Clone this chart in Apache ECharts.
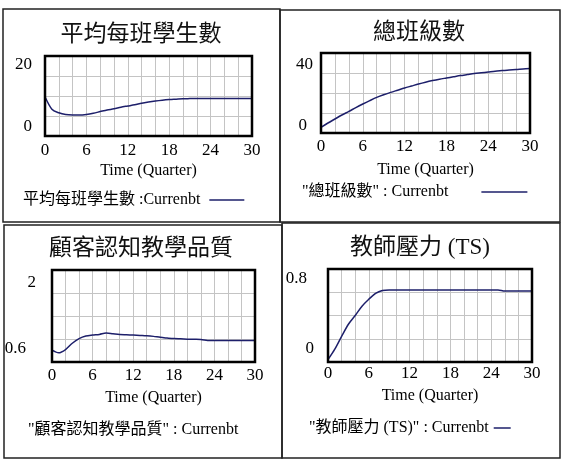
<!DOCTYPE html>
<html>
<head>
<meta charset="utf-8">
<script src="https://cdn.jsdelivr.net/npm/echarts@6/dist/echarts.min.js"></script>
<style>
  html, body { margin: 0; padding: 0; background: #fff; }
  #chart { width: 564px; height: 472px; }
</style>
</head>
<body>
<div id="chart"></div>
<script>
// Time (Quarter)
const quarters = [0, 1, 2, 3, 4, 5, 6, 7, 8, 9, 10, 11, 12, 13, 14, 15, 16, 17, 18, 19, 20,
  21, 22, 23, 24, 25, 26, 27, 28, 29, 30];
// 平均每班學生數
const classSize = [9.8, 6.7, 5.8, 5.35, 5.25, 5.25, 5.4, 5.7, 6.1, 6.5, 6.8, 7.2, 7.5, 7.8, 8.2,
  8.5, 8.75, 8.95, 9.1, 9.2, 9.3, 9.35, 9.4, 9.4, 9.4, 9.4, 9.4, 9.4, 9.4, 9.4, 9.4];
// 總班級數
const classCount = [2.8, 5.0, 7.0, 9.0, 10.8, 12.7, 14.5, 16.2, 17.8, 19.1, 20.3, 21.4, 22.5, 23.5,
  24.5, 25.4, 26.2, 26.9, 27.5, 28.1, 28.7, 29.2, 29.7, 30.1, 30.5, 30.9, 31.2, 31.5, 31.7, 32.0, 32.2];
// 顧客認知教學品質
const perceivedQuality = [0.78, 0.74, 0.79, 0.885, 0.955, 0.995, 1.01, 1.02, 1.04, 1.03, 1.02,
  1.015, 1.01, 1.005, 1.0, 0.99, 0.975, 0.965, 0.956, 0.952, 0.948, 0.946, 0.944, 0.928, 0.926,
  0.926, 0.926, 0.926, 0.926, 0.926, 0.926];
// 教師壓力 (TS)
const teacherStress = [0.02, 0.11, 0.22, 0.325, 0.4, 0.48, 0.54, 0.59, 0.615, 0.62, 0.62, 0.62,
  0.62, 0.62, 0.62, 0.62, 0.62, 0.62, 0.62, 0.62, 0.62, 0.62, 0.62, 0.62, 0.62, 0.62, 0.61, 0.61,
  0.61, 0.61, 0.61];

const titles = ['平均每班學生數', '總班級數', '顧客認知教學品質', '教師壓力 (TS)'];
const legendNames = ['平均每班學生數 :Currenbt', '"總班級數" : Currenbt',
  '"顧客認知教學品質" : Currenbt', '"教師壓力 (TS)" : Currenbt'];
const seriesValues = [classSize, classCount, perceivedQuality, teacherStress];
const yRanges = [[0, 20], [0, 40], [0.6, 2], [0, 0.8]];
const xTickStep = 6;

const FONT = "'Liberation Serif', 'Noto Sans CJK TC', serif";
const LINE = '#1d1f6a';
const GRID_LINE = '#c4c4c4';

// layout of each panel (pixels)
const panels = [
  { box: [3, 9, 277, 213], grid: [45, 56, 207, 80], title: [141, 23], legend: [23, 192], icon: 35, gapR: 4,
    yLab: { margin: 13, hi: [9, 0], lo: [9, 0] }, xMargin: 6, nameGap: 27 },
  { box: [280, 10, 280, 212], grid: [321, 53, 209, 80], title: [419, 21], legend: [302, 184], icon: 46, gapR: 28,
    yLab: { margin: 8, hi: [12, 0], lo: [7, 6] }, xMargin: 5, nameGap: 29 },
  { box: [4, 225, 278, 233], grid: [52, 270, 203, 92], title: [141, 237], legend: [28, 422], icon: 0, gapR: 0,
    yLab: { margin: 16, hi: [13, 0], lo: [13, 10] }, xMargin: 5, nameGap: 28 },
  { box: [282, 223, 278, 235], grid: [328, 269, 204, 93], title: [420, 236], legend: [309, 420], icon: 17, gapR: 0,
    yLab: { margin: 14, hi: [10, 7], lo: [13, 0] }, xMargin: 3, nameGap: 26 }
];

const myChart = echarts.init(document.getElementById('chart'));

const option = {
  backgroundColor: '#fff',
  animation: false,
  title: panels.map((p, i) => ({
    text: titles[i],
    left: p.title[0],
    top: p.title[1],
    textAlign: 'center',
    padding: 0,
    textStyle: { fontSize: 23, fontWeight: 'normal', color: '#111', fontFamily: FONT }
  })),
  legend: panels.map((p, i) => ({
    data: [legendNames[i]],
    left: p.legend[0],
    top: p.legend[1],
    padding: 0,
    align: 'right',
    icon: 'rect',
    itemWidth: p.icon,
    itemHeight: 1.5,
    selectedMode: false,
    formatter: name => '{t|' + name + '}',
    textStyle: {
      color: '#000', fontSize: 16, fontFamily: FONT,
      rich: { t: { color: '#000', fontSize: 16, fontFamily: FONT, padding: [0, p.gapR, 0, 0] } }
    }
  })),
  graphic: panels.map(p => ({
    type: 'rect',
    shape: { x: p.box[0], y: p.box[1], width: p.box[2], height: p.box[3] },
    style: { fill: 'transparent', stroke: '#222', lineWidth: 1.5 },
    silent: true
  })),
  grid: panels.map(p => ({
    left: p.grid[0], top: p.grid[1], width: p.grid[2], height: p.grid[3],
    show: true, borderColor: '#000', borderWidth: 2.5, z: 5
  })),
  xAxis: panels.map((p, i) => ({
    type: 'value',
    gridIndex: i,
    min: 0, max: 30, interval: 2,
    name: 'Time (Quarter)',
    nameLocation: 'middle',
    nameGap: p.nameGap,
    nameMoveOverlap: false,
    nameTextStyle: { fontSize: 16, color: '#000', fontFamily: FONT },
    axisLine: { show: false },
    axisTick: { show: false },
    splitLine: { show: true, lineStyle: { color: GRID_LINE, width: 1 } },
    axisLabel: {
      margin: p.xMargin, fontSize: 17, color: '#000', fontFamily: FONT,
      formatter: v => (v % xTickStep === 0 ? String(v) : '')
    }
  })),
  yAxis: []
};

// each panel: one value axis carrying the data and labels, one plain axis for the 4 grid bands
panels.forEach((p, i) => {
  const [lo, hi] = yRanges[i];
  option.yAxis.push({
    type: 'value',
    gridIndex: i,
    min: lo, max: hi,
    axisLine: { show: false },
    axisTick: { show: false },
    splitLine: { show: false },
    axisLabel: {
      showMinLabel: true, showMaxLabel: true,
      margin: p.yLab.margin, color: '#000', fontSize: 17, fontFamily: FONT,
      formatter: v => (v === hi ? '{hi|' + v + '}' : v === lo ? '{lo|' + v + '}' : ''),
      rich: {
        hi: { fontSize: 17, fontFamily: FONT, color: '#000', padding: [p.yLab.hi[0] * 2, p.yLab.hi[1], 0, 0] },
        lo: { fontSize: 17, fontFamily: FONT, color: '#000', padding: [0, p.yLab.lo[1], p.yLab.lo[0] * 2, 0] }
      }
    }
  });
  option.yAxis.push({
    type: 'value',
    gridIndex: i,
    position: 'left',
    min: 0, max: 4, interval: 1,
    axisLine: { show: false },
    axisTick: { show: false },
    axisLabel: { show: false },
    splitLine: { show: true, lineStyle: { color: GRID_LINE, width: 1 } }
  });
});

option.series = seriesValues.map((vals, i) => ({
  name: legendNames[i],
  type: 'line',
  xAxisIndex: i,
  yAxisIndex: i * 2,
  symbol: 'none',
  smooth: 0.3,
  color: LINE,
  lineStyle: { color: LINE, width: 1.5 },
  data: quarters.map((t, k) => [t, vals[k]])
}));

myChart.setOption(option);
</script>
</body>
</html>
